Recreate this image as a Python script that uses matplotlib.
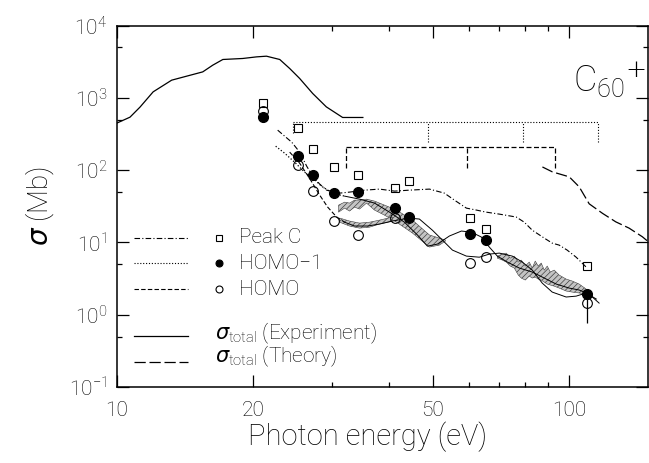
import matplotlib.pyplot as plt
from matplotlib.ticker import FixedLocator, FixedFormatter, NullFormatter

plt.rcParams['font.family'] = ['Roboto', 'DejaVu Sans']
plt.rcParams['font.weight'] = 'light'
plt.rcParams['axes.labelweight'] = 'light'
plt.rcParams['hatch.linewidth'] = 0.5

# measured partial cross sections (points)
energy_pts = [21.1, 25.2, 27.2, 30.2, 34.1, 41.2, 44.3, 60.4, 65.6, 109.4]
peak_c = [855, 385, 196, 111, 85.5, 56, 70.6, 22.0, 15.3, 4.8]
homo_1 = [537, 157, 85.5, 47.8, 49.3, 29.6, 22.7, 13.1, 11.0, 1.93]
homo = [656, 118, 51.9, 20.0, 12.6, 21.5, 22.0, 5.24, 6.22, 1.47]
err_e = [109.4]
err_lo = [0.76]
err_hi = [1.93]

# total cross section, experiment
exp_e = [10.0, 10.7, 11.26, 12.04, 13.23, 14.01, 15.5, 16.31, 17.17, 19.0, 20.38,
         21.44, 22.94, 24.13, 25.39, 27.13, 29.08, 31.6, 35.03]
exp_s = [448, 542, 747, 1215, 1763, 1940, 2296, 2843, 3408, 3518, 3703,
         3786, 3408, 2559, 1861, 1154, 753, 537, 537]

# total cross section, theory
tot_e = [87.4, 91.9, 100.2, 105.4, 110.9, 118.7, 127.0, 135.9, 145.4, 150.0]
tot_s = [111, 95, 81, 58.9, 34.3, 25.3, 19.3, 15.8, 12.0, 10.2]

# partial cross sections, theory
pc_e = [22.7, 23.52, 24.38, 25.39, 26.31, 27.13, 28.12, 29.13, 31.11, 32.73, 35.33,
        38.13, 41.16, 44.41, 49.16, 53.05, 55.83, 59.35, 62.43, 65.66, 70.18, 76.5,
        79.68, 82.99, 88.22, 91.87, 95.19, 99.13, 103.78, 106.46, 109.19]
pc_s = [358.6, 296.2, 244.7, 178, 114, 82.8, 64.2, 53.0, 48.2, 49.8, 53.0,
        54.8, 51.4, 53.0, 54.8, 48.2, 38.6, 29.9, 28.1, 26.3, 24.7, 22.5,
        19.1, 14.8, 11.5, 9.8, 9.2, 7.85, 6.26, 5.36, 4.57]

h1_e = [22.47, 23.52, 24.75, 26.04, 27.13, 28.4, 30.03, 31.92, 34.44, 37.17, 40.12,
        43.29, 46.25, 48.66, 51.2, 54.43, 57.86, 60.87, 64.04, 66.7, 69.47, 73.1,
        77.7, 82.99, 88.22, 93.76, 100.15, 105.37, 110.87, 116.65]
h1_s = [215, 172, 129, 94, 78, 60, 48, 43.8, 39.8, 35.1, 26.3,
        19.1, 12.7, 8.9, 9.5, 12.3, 14.4, 13.9, 11.9, 8.64, 6.48, 5.36,
        4.43, 3.9, 3.22, 2.66, 2.34, 2.2, 1.93, 1.45]

ho_e = [24.13, 25.39, 26.85, 28.12, 29.28, 30.65, 31.92, 33.58, 35.87, 38.13, 40.74,
        44.18, 46.72, 49.91, 52.52, 55.27, 59.35, 63.39, 66.7, 70.18, 74.98, 78.89,
        82.99, 87.33, 91.87, 98.63, 103.78, 109.19, 115.0]
ho_s = [178, 125, 73, 45.2, 30.9, 22.5, 19.1, 16.9, 16.9, 18.0, 19.8,
        21.8, 21.1, 14.8, 10.8, 7.85, 6.48, 6.26, 6.91, 7.13, 6.48, 5.36,
        4.15, 2.74, 2.06, 1.76, 1.81, 2.0, 1.65]

# shaded bands
band_a_e = [30.96, 31.92, 32.73, 33.58, 34.44, 35.69, 37.17, 39.11, 41.58, 45.1, 49.16, 51.73, 53.32]
band_a_hi = [32.9, 36.2, 35.1, 38.6, 38.6, 39.8, 37.4, 32.9, 28.1, 20.4, 12.7, 11.5, 10.8]
band_a_lo = [26.3, 29.9, 27.2, 30.9, 29.0, 35.1, 28.1, 23.9, 19.1, 13.5, 8.64, 9.2, 10.45]

band_b_e = [31.11, 32.73, 34.44, 36.25, 38.13, 40.74]
band_b_hi = [21.8, 19.8, 18.55, 19.1, 20.4, 22.5]
band_b_lo = [19.1, 16.9, 15.8, 16.3, 18.0, 19.8]

band_c_e = [69.47, 71.25, 72.71, 74.22, 75.74, 77.3, 78.49, 80.09, 81.73, 82.99, 84.26,
            85.56, 86.88, 88.22, 89.58, 90.96, 92.81, 95.19, 98.63, 101.7, 105.37, 109.19]
band_c_hi = [6.48, 6.91, 7.13, 6.08, 6.48, 5.36, 5.71, 4.72, 5.36, 4.43, 5.53,
             4.72, 5.19, 4.15, 4.72, 3.9, 4.15, 3.54, 3.12, 2.93, 2.66, 2.27]
band_c_lo = [6.08, 5.71, 5.36, 4.72, 4.43, 3.54, 3.22, 3.02, 3.43, 3.22, 3.32,
             3.12, 3.02, 2.83, 2.66, 2.58, 2.49, 2.34, 2.13, 2.06, 2.0, 1.93]

# threshold brackets
dot_e = [24.5, 48.8, 79.3, 115.9]
dot_top = 463
dot_bot = [326, 245, 245, 245]
dash_e = [32.1, 59.5, 93.1]
dash_top = 209
dash_bot = [107, 107, 107]

ls_pc = (0, (5, 2, 1, 2))
ls_h1 = (0, (1, 1.6))
ls_ho = (0, (4, 2))
ls_tot = (0, (9, 3))

fig = plt.figure(figsize=(6.49, 4.63), dpi=100)
ax = fig.add_axes([0.1798, 0.1641, 0.8194, 0.7804])
ax.set_xscale('log')
ax.set_yscale('log')
ax.set_xlim(10, 150)
ax.set_ylim(0.1, 1e4)

for e, lo, hi in [(band_a_e, band_a_lo, band_a_hi), (band_b_e, band_b_lo, band_b_hi),
                  (band_c_e, band_c_lo, band_c_hi)]:
    ax.fill_between(e, lo, hi, facecolor='#c4c4c4', edgecolor='#404040',
                    hatch='//////', linewidth=0.4)

ax.plot(exp_e, exp_s, color='black', lw=0.9)
ax.plot(tot_e, tot_s, color='black', lw=0.9, ls=ls_tot)
ax.plot(pc_e, pc_s, color='black', lw=0.8, ls=ls_pc)
# the theory curves look broken only near threshold, solid further up
ax.plot(h1_e[:8], h1_s[:8], color='black', lw=0.9, ls=ls_h1)
ax.plot(h1_e[7:], h1_s[7:], color='black', lw=0.7)
ax.plot(ho_e[:7], ho_s[:7], color='black', lw=0.8, ls=ls_ho)
ax.plot(ho_e[6:], ho_s[6:], color='black', lw=0.7)

ax.hlines(dot_top, dot_e[0], dot_e[-1], color='black', lw=0.8, ls=ls_h1)
ax.vlines(dot_e, dot_bot, dot_top, color='black', lw=0.8, ls=ls_h1)
ax.hlines(dash_top, dash_e[0], dash_e[-1], color='black', lw=0.9, ls=ls_ho)
ax.vlines(dash_e, dash_bot, dash_top, color='black', lw=0.9, ls=ls_ho)

ax.vlines(err_e, err_lo, err_hi, color='black', lw=0.9)
ax.plot(energy_pts, peak_c, 's', ms=5.5, mfc='none', mec='black', mew=0.8)
ax.plot(energy_pts, homo_1, 'o', ms=7, color='black')
ax.plot(energy_pts, homo, 'o', ms=7, mfc='none', mec='black', mew=0.8)

ax.xaxis.set_major_locator(FixedLocator([10, 20, 50, 100]))
ax.xaxis.set_major_formatter(FixedFormatter(['10', '20', '50', '100']))
ax.xaxis.set_minor_locator(FixedLocator([30, 40, 60, 70, 80, 90]))
ax.xaxis.set_minor_formatter(NullFormatter())
ax.yaxis.set_major_locator(FixedLocator([0.1, 1, 10, 100, 1000, 10000]))
ax.yaxis.set_major_formatter(FixedFormatter(
    [r'$\mathregular{10^{%d}}$' % n for n in range(-1, 5)]))
ax.yaxis.set_minor_locator(FixedLocator([0.5, 5, 50, 500, 5000]))
ax.yaxis.set_minor_formatter(NullFormatter())
ax.tick_params(which='both', direction='in', top=True, right=True, width=0.9,
               labelsize=15)
ax.tick_params(which='major', length=8.5)
ax.tick_params(which='minor', length=3.3)
ax.tick_params(axis='x', pad=10)
ax.tick_params(axis='y', pad=7)
for s in ax.spines.values():
    s.set_linewidth(1.1)

ax.set_xlabel('Photon energy (eV)', fontsize=21)
ax.xaxis.label.set_va('baseline')
ax.xaxis.set_label_coords(0.4716, -0.1605)
ax.set_ylabel(r'$\sigma$ (Mb)', fontsize=20, labelpad=9)

ax.text(0.858, 0.8165, r'$\mathregular{C_{60}}^{+}$', transform=ax.transAxes,
        fontsize=26, va='baseline')

# legend drawn by hand: line sample, marker, label
rows = [(ls_pc, 's', 'none', 'Peak C', 0.4138),
        (ls_h1, 'o', 'black', 'HOMO\u22121', 0.3424),
        (ls_ho, 'o', 'none', 'HOMO', 0.2712)]
for ls, mk, fc, lab, y in rows:
    ax.plot([0.0325, 0.134], [y, y], transform=ax.transAxes, color='black',
            lw=0.8, ls=ls)
    ax.plot([0.1924], [y], mk, transform=ax.transAxes, ms=5, mfc=fc,
            mec='black', mew=0.8)
    ax.text(0.230, y, lab, transform=ax.transAxes, fontsize=15, va='center')
ax.plot([0.0325, 0.134], [0.1412, 0.1412], transform=ax.transAxes, color='black', lw=0.9)
ax.text(0.1848, 0.1495, r'$\sigma_{\mathregular{total}}$ (Experiment)',
        transform=ax.transAxes, fontsize=15, va='center')
ax.plot([0.0325, 0.134], [0.0692, 0.0692], transform=ax.transAxes, color='black',
        lw=0.9, ls=ls_tot)
ax.text(0.1848, 0.0858, r'$\sigma_{\mathregular{total}}$ (Theory)',
        transform=ax.transAxes, fontsize=15, va='center')

fig.savefig('out.png', dpi=100)
